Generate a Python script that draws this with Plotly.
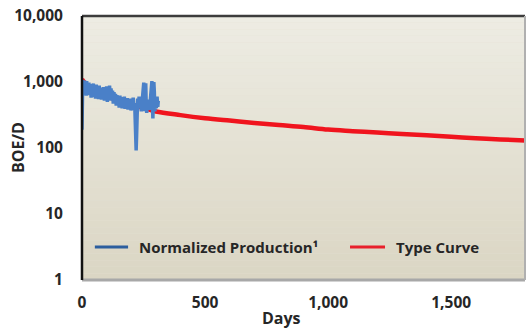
import plotly.graph_objects as go

# Normalized production history (days on production, BOE/D)
prod_days = [0, 1, 2, 3, 5, 7, 9, 11, 13, 15, 17, 19, 21, 23, 25, 28, 31, 34, 37, 40,
             43, 46, 49, 52, 55, 58, 61, 64, 67, 70, 73, 76, 79, 82, 85, 88, 91, 94, 97, 100,
             103, 106, 109, 112, 115, 118, 121, 124, 127, 130, 133, 136, 139, 142, 145, 148,
             151, 154, 157, 160, 163, 166, 169, 172, 175, 178, 181, 184, 187, 190, 193, 196,
             199, 202, 205, 208, 211, 214, 216, 218, 220, 222, 224, 226, 229, 232, 235, 238,
             241, 244, 247, 249, 251, 253, 255, 257, 259, 261, 263, 265, 268, 271, 274, 277,
             280, 282, 284, 286, 288, 290, 292, 294, 296, 299, 302, 305, 308, 310]
prod_boe = [190, 420, 880, 1080, 680, 1020, 640, 1050, 660, 980, 620, 1030, 700, 960, 630, 980, 640, 930, 580, 900,
            620, 950, 590, 880, 560, 910, 620, 840, 550, 880, 580, 820, 540, 780, 560, 840, 520, 790, 560, 860,
            500, 830, 560, 880, 520, 800, 540, 740, 470, 700, 490, 660, 440, 630, 460, 610,
            410, 620, 430, 590, 400, 570, 420, 600, 390, 550, 410, 570, 380, 530, 400, 560,
            370, 520, 390, 580, 380, 480, 300, 150, 92, 160, 380, 560, 400, 600, 420, 540,
            360, 520, 600, 920, 980, 560, 360, 840, 960, 430, 340, 500, 400, 540, 380, 500,
            640, 1000, 1030, 480, 280, 580, 1000, 700, 360, 560, 400, 600, 420, 520]

# Type curve (days, BOE/D)
tc_days = [0, 10, 25, 50, 90, 150, 200, 250, 300, 400, 500, 600, 700, 800, 900,
           1000, 1100, 1200, 1300, 1400, 1500, 1600, 1700, 1800]
tc_boe = [1100, 980, 860, 740, 630, 520, 455, 405, 358, 315, 283, 260, 240, 223, 208,
          190, 180, 171, 163, 156, 148, 141, 135, 130]

x_ticks = [0, 500, 1000, 1500]
x_tick_text = ["0", "500", "1,000", "1,500"]
y_ticks = [1, 10, 100, 1000, 10000]
y_tick_text = ["1", "10", "100", "1,000", "10,000"]

series_names = ["Normalized Production\u00b9", "Type Curve"]
legend_colors = ["#2C5E9E", "#E8202C"]

FONT = "Open Sans"
TEXT = "#262626"

fig = go.Figure()
fig.add_trace(go.Scatter(
    x=tc_days, y=tc_boe, mode="lines", name=series_names[1],
    line=dict(color="#F0141E", width=4.5, shape="spline"),
))
fig.add_trace(go.Scatter(
    x=prod_days, y=prod_boe, mode="lines", name=series_names[0],
    line=dict(color="#4A80C8", width=3.5),
))

# vertical beige gradient behind the plot area
shapes = []
n = 40
top = (237, 236, 227)
bot = (219, 214, 196)
for i in range(n):
    t = i / (n - 1)
    c = tuple(round(top[k] + (bot[k] - top[k]) * t) for k in range(3))
    shapes.append(dict(type="rect", xref="paper", yref="paper", layer="below",
                       x0=0, x1=1, y0=1 - (i + 1) / n, y1=1 - i / n,
                       fillcolor="rgb(%d,%d,%d)" % c, line=dict(width=0)))
# frame: dark top edge, grey shadow at bottom and right, black left axis
shapes.append(dict(type="line", xref="paper", yref="paper", x0=0, x1=1, y0=1, y1=1,
                   line=dict(color="#3C3C3C", width=2.5)))
shapes.append(dict(type="line", xref="paper", yref="paper", x0=0, x1=1, y0=0, y1=0,
                   line=dict(color="#A8A8A8", width=3)))
shapes.append(dict(type="line", xref="paper", yref="paper", x0=1, x1=1, y0=0, y1=1,
                   line=dict(color="#B0B0B0", width=2)))
shapes.append(dict(type="line", xref="paper", yref="paper", x0=0, x1=0, y0=0, y1=1,
                   line=dict(color="#111111", width=2.5)))

# legend drawn inside the plot area
legend_y = 0.125
legend_items = [(0.029, 0.104, 0.124), (0.605, 0.684, 0.705)]
annotations = []
for (lx0, lx1, tx), name, col in zip(legend_items, series_names, legend_colors):
    shapes.append(dict(type="line", xref="paper", yref="paper", x0=lx0, x1=lx1,
                       y0=legend_y, y1=legend_y, line=dict(color=col, width=3)))
    annotations.append(dict(text=name, xref="paper", yref="paper", x=tx, y=legend_y,
                            xanchor="left", yanchor="middle", showarrow=False,
                            font=dict(family=FONT, size=15, color=TEXT, weight="bold")))

# axis titles
annotations.append(dict(
    text="Days", xref="paper", yref="paper", x=0.451, y=0, yshift=-38,
    xanchor="center", yanchor="middle", showarrow=False,
    font=dict(family=FONT, size=16, color=TEXT, weight="bold"),
))
annotations.append(dict(
    text="BOE/D", xref="paper", yref="paper", x=0, xshift=-64, y=0.5,
    xanchor="center", yanchor="middle", showarrow=False, textangle=-90,
    font=dict(family=FONT, size=16, color=TEXT, weight="bold"),
))

fig.update_layout(
    width=528, height=329,
    margin=dict(l=82, r=3, t=16, b=49),
    paper_bgcolor="white",
    plot_bgcolor="rgb(228,225,212)",
    shapes=shapes,
    annotations=annotations,
    font=dict(family=FONT, color=TEXT, size=14, weight="bold"),
    showlegend=False,
    xaxis=dict(
        range=[0, 1800], tickvals=x_ticks, ticktext=x_tick_text,
        showgrid=False, zeroline=False, showline=False,
        ticks="outside", ticklen=8, tickcolor="rgba(0,0,0,0)",
        tickfont=dict(family=FONT, size=15.5, color=TEXT, weight="bold"),
    ),
    yaxis=dict(
        type="log", range=[0, 4], tickvals=y_ticks, ticktext=y_tick_text,
        showgrid=False, zeroline=False, showline=False,
        ticks="outside", ticklen=15, tickcolor="rgba(0,0,0,0)",
        tickfont=dict(family=FONT, size=15.5, color=TEXT, weight="bold"),
    ),
)

fig.write_html("out.html")
